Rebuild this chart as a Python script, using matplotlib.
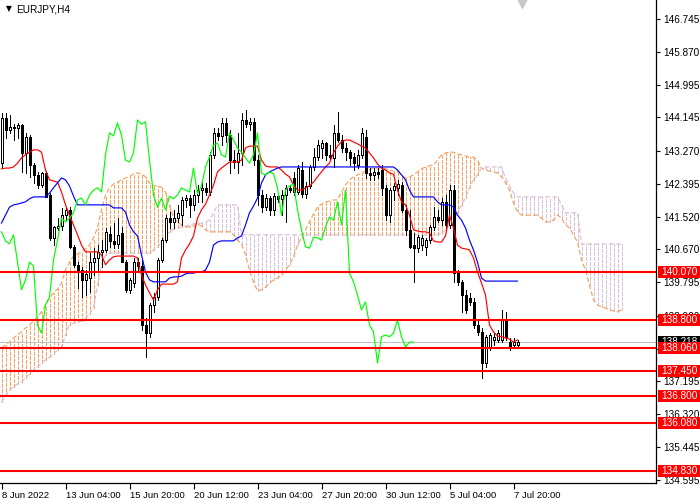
import matplotlib
matplotlib.use("Agg")
import matplotlib.pyplot as plt
from matplotlib.patches import Rectangle
import matplotlib.transforms as mtransforms

symbol_title = "EURJPY,H4"

open_ = [142.94,144.13,143.82,143.89,143.87,143.95,143.21,143.63,142.89,142.63,
         142.36,142.68,142.10,140.97,141.23,141.28,141.57,141.71,140.73,140.26,
         140.12,139.86,139.91,140.33,140.44,140.60,140.65,141.07,140.89,140.81,
         141.10,140.33,139.60,139.78,140.33,140.23,138.67,138.46,139.20,139.41,
         140.39,140.91,141.49,141.39,141.49,141.57,141.97,142.02,141.84,142.10,
         142.23,142.29,142.18,143.16,143.74,143.66,144.00,143.68,143.02,142.97,
         143.21,144.08,143.97,144.03,143.02,142.10,141.78,142.02,141.71,142.07,
         142.00,142.10,142.29,142.55,142.18,142.76,142.13,142.34,142.84,143.10,
         143.34,143.47,143.16,143.08,143.74,143.55,143.34,143.23,143.10,142.89,
         143.16,143.63,142.68,142.63,142.71,142.76,142.29,141.57,142.23,142.29,
         142.36,141.71,141.18,140.78,140.70,140.78,140.73,140.91,141.26,141.52,
         141.44,141.92,141.31,142.23,140.04,139.81,139.46,139.38,139.28,138.67,
         138.49,137.67,138.09,138.28,138.28,138.28,138.80,138.22,138.15,138.15]
high = [144.26,144.26,144.21,143.97,144.00,143.97,143.74,143.68,142.94,142.71,
        142.71,142.73,142.15,141.28,141.49,141.76,141.76,141.78,140.78,140.33,
        140.20,140.12,140.57,140.70,140.78,140.91,141.23,141.26,141.36,141.49,
        141.26,140.39,139.91,140.44,140.44,140.39,138.86,139.25,139.52,140.44,
        140.97,141.57,141.65,141.71,141.84,142.05,142.10,142.10,142.23,142.36,
        142.50,142.42,143.23,143.87,143.87,144.13,144.13,143.82,143.29,143.74,
        144.26,144.34,144.13,144.13,143.16,142.23,142.13,142.07,142.15,142.13,
        142.23,142.36,142.36,142.71,142.89,142.97,142.44,142.89,143.34,143.55,
        143.55,143.50,143.42,143.95,144.29,143.68,143.47,143.29,143.21,143.29,
        143.87,143.82,142.81,142.81,142.81,142.89,142.36,142.29,142.42,142.50,
        142.44,141.84,141.71,141.10,141.05,141.05,140.97,141.31,141.78,141.71,
        142.02,142.10,142.36,142.36,140.12,139.86,139.60,139.52,139.38,138.80,
        138.59,138.41,138.46,138.46,138.54,139.07,139.02,138.33,138.33,138.28]
low = [142.84,143.60,143.74,143.55,143.60,142.71,142.68,142.58,142.42,142.29,
       142.31,142.05,140.91,140.78,141.18,141.18,141.44,140.70,140.20,139.65,
       139.41,139.46,139.54,139.99,140.12,140.20,140.60,140.73,140.70,140.70,
       140.33,139.54,139.52,139.67,140.12,138.54,137.83,138.36,139.02,139.33,
       140.33,140.86,141.23,141.23,141.39,141.31,141.78,141.52,141.71,141.92,
       141.92,142.10,142.10,143.08,143.55,143.42,143.50,142.68,142.81,142.68,
       142.89,143.89,143.82,142.89,141.84,141.65,141.71,141.57,141.57,141.92,
       141.57,141.39,142.18,142.10,142.13,142.05,142.02,142.29,142.76,143.02,
       143.08,143.02,143.02,142.84,143.50,143.23,143.02,142.89,142.76,142.81,
       143.08,142.55,142.50,142.50,142.55,142.10,141.44,141.39,141.97,142.10,
       141.65,141.05,140.70,139.81,140.60,140.65,140.52,140.83,141.18,141.39,
       141.31,141.23,141.23,139.81,139.73,139.02,138.99,139.20,138.59,138.41,
       137.28,137.57,138.01,138.15,138.22,138.22,138.28,138.01,138.06,138.09]
close = [144.13,143.82,143.89,143.87,143.95,143.21,143.63,142.89,142.63,142.36,
         142.68,142.05,140.97,141.26,141.28,141.57,141.71,140.73,140.26,140.12,
         139.86,140.02,140.33,140.44,140.60,140.65,141.13,140.89,140.81,141.05,
         140.33,139.60,139.86,140.33,140.23,138.67,138.46,139.20,139.41,140.39,
         140.91,141.49,141.39,141.49,141.63,141.97,142.02,141.84,142.10,142.23,
         142.29,142.18,143.16,143.74,143.66,144.00,143.68,143.02,142.97,143.21,
         144.08,143.97,144.03,143.02,142.10,141.78,142.02,141.71,142.07,142.00,
         142.10,142.29,142.23,142.18,142.81,142.13,142.34,142.84,143.10,143.42,
         143.47,143.16,143.10,143.74,143.55,143.34,143.23,143.08,142.94,143.16,
         143.74,142.68,142.63,142.71,142.66,142.29,141.57,142.23,142.34,142.39,
         141.71,141.18,140.73,140.70,140.99,140.97,140.91,141.26,141.52,141.44,
         141.92,141.31,142.23,140.04,139.81,139.46,139.07,139.28,138.67,138.49,
         137.67,138.36,138.41,138.36,138.46,138.80,138.36,138.09,138.22,138.218]

tenkan = [142.79,142.81,142.81,142.84,142.94,143.08,143.16,143.23,143.29,143.29,
          143.23,142.76,142.50,142.47,142.44,142.18,141.84,141.57,141.31,141.05,
          140.78,140.60,140.60,140.60,140.60,140.52,140.26,140.39,140.47,140.49,
          140.49,140.49,140.49,140.49,140.44,139.99,139.73,139.52,139.33,139.60,
          139.75,139.75,139.75,139.75,139.81,140.44,140.65,140.81,141.02,141.49,
          141.71,141.86,142.10,142.36,142.71,142.81,142.89,142.97,142.97,142.97,
          143.02,143.34,143.39,143.39,143.39,143.02,142.87,142.84,142.84,142.84,
          142.76,142.65,142.58,142.36,142.23,142.23,142.29,142.34,142.44,142.58,
          142.71,142.84,142.94,143.21,143.39,143.50,143.55,143.55,143.50,143.45,
          143.39,143.34,143.21,143.08,142.92,142.81,142.76,142.68,142.65,142.23,
          141.92,141.84,141.57,141.18,141.15,141.13,141.13,141.10,140.89,140.86,
          140.86,141.02,141.57,141.23,140.78,140.70,140.68,140.65,140.44,140.07,
          139.78,139.46,138.67,138.49,138.38,138.36,138.33,138.30,138.22,138.28]
kijun = [141.36,141.57,141.78,141.84,141.86,141.89,141.92,142.00,142.05,142.05,
         142.05,142.05,142.15,142.29,142.42,142.55,142.50,142.34,142.07,141.84,
         141.84,141.84,141.84,141.84,141.84,141.84,141.84,141.84,141.76,141.76,
         141.76,141.65,141.31,141.13,141.02,140.52,140.07,139.86,139.81,139.81,
         139.81,139.81,139.91,139.94,139.94,139.96,140.02,140.04,140.04,140.07,
         140.07,140.12,140.33,140.78,140.86,140.89,140.89,140.89,140.89,140.97,
         141.02,141.31,141.63,141.81,142.02,142.42,142.63,142.71,142.76,142.81,
         142.84,142.84,142.84,142.84,142.84,142.84,142.84,142.84,142.84,142.84,
         142.84,142.84,142.84,142.84,142.84,142.84,142.84,142.84,142.84,142.84,
         142.84,142.84,142.84,142.84,142.84,142.84,142.84,142.84,142.84,142.76,
         142.63,142.50,142.23,142.05,142.05,142.05,142.05,142.05,142.05,141.92,
         141.84,141.84,141.84,141.78,141.57,141.44,141.23,140.91,140.65,140.33,
         139.91,139.83,139.83,139.83,139.83,139.83,139.83,139.83,139.83,139.83]
senkou_a = [138.07,138.15,138.22,138.33,138.41,138.49,138.59,138.67,138.78,138.88,
            139.02,139.20,139.38,139.52,139.62,139.78,140.12,140.33,140.49,140.55,
            140.60,140.68,140.78,140.97,141.23,141.71,142.10,142.29,142.39,142.44,
            142.50,142.55,142.58,142.66,142.68,142.66,142.58,142.42,142.34,142.34,
            142.31,142.18,141.84,141.52,141.39,141.31,141.26,141.26,141.28,141.34,
            141.28,141.18,141.13,141.13,141.13,141.13,141.13,141.13,141.05,140.91,
            140.81,140.52,140.12,139.81,139.57,139.60,139.67,139.78,139.86,139.91,
            139.99,140.12,140.26,140.47,140.78,140.97,141.18,141.39,141.60,141.78,
            141.86,141.92,141.94,141.97,141.97,142.18,142.36,142.50,142.58,142.63,
            142.68,142.73,142.76,142.81,142.81,142.81,142.79,142.76,142.73,142.71,
            142.63,142.55,142.58,142.63,142.71,142.79,142.84,142.87,142.89,143.02,
            143.16,143.21,143.23,143.23,143.18,143.16,143.13,143.10,143.10,143.02,
            142.81,142.76,142.73,142.71,142.68,142.58,142.42,142.23,141.89,141.65,
            141.57,141.57,141.57,141.57,141.57,141.49,141.39,141.39,141.44,141.57,
            141.49,141.31,141.23,141.05,140.86,140.39,140.12,139.73,139.33,139.20,
            139.15,139.12,139.07,139.04,139.02,139.07]
senkou_b = [136.64,136.80,136.96,137.04,137.12,137.17,137.28,137.38,137.49,137.57,
            137.67,137.75,137.83,137.91,138.01,138.09,138.41,138.67,138.72,138.75,
            138.78,138.86,138.96,139.12,139.73,140.26,140.52,140.57,140.57,140.57,
            140.57,140.57,140.57,140.57,140.57,140.57,140.57,140.57,140.65,140.73,
            140.86,141.02,141.13,141.20,141.23,141.26,141.28,141.31,141.34,141.36,
            141.36,141.39,141.44,141.63,141.84,141.84,141.84,141.84,141.84,141.84,
            141.05,141.05,141.05,141.05,141.05,141.05,141.05,141.05,141.05,141.05,
            141.05,141.05,141.05,141.05,141.05,141.05,141.05,141.05,141.05,141.05,
            141.05,141.05,141.05,141.05,141.05,141.05,141.05,141.05,141.05,141.05,
            141.05,141.05,141.05,141.05,141.05,141.05,141.05,141.05,141.05,141.05,
            141.05,141.05,141.05,141.05,141.05,141.05,141.05,141.05,141.05,141.05,
            141.10,141.18,141.28,141.36,141.63,141.84,142.02,142.29,142.50,142.63,
            142.81,142.84,142.84,142.84,142.84,142.84,142.55,142.34,142.15,142.05,
            142.05,142.05,142.05,142.05,142.05,142.05,142.05,142.05,142.05,142.05,
            141.84,141.63,141.63,141.63,141.63,140.81,140.81,140.81,140.81,140.81,
            140.81,140.81,140.81,140.81,140.81,140.81]
chikou_shift = 26

levels = [140.070, 138.800, 138.060, 137.450, 136.800, 136.080, 134.830]
bid_price = 138.218
price_ticks = [146.745, 145.870, 144.995, 144.145, 143.270, 142.395, 141.520,
               140.670, 139.795, 138.920, 138.045, 137.195, 136.320, 135.445, 134.595]
time_labels = ["8 Jun 2022", "13 Jun 04:00", "15 Jun 20:00", "20 Jun 12:00",
               "23 Jun 04:00", "27 Jun 20:00", "30 Jun 12:00", "5 Jul 04:00", "7 Jul 20:00"]
time_label_bars = [0, 16, 32, 48, 64, 80, 96, 112, 128]

AXFONT = ['Liberation Sans', 'DejaVu Sans']
plt.rcParams['font.family'] = AXFONT

W, H = 700, 500
fig = plt.figure(figsize=(W / 100, H / 100), dpi=100)
ax_right_px, ax_bottom_px = 656, 483
ax = fig.add_axes([0, 1 - ax_bottom_px / H, ax_right_px / W, ax_bottom_px / H])
ax.set_xlim(-0.375, 163.625)
YMIN, YMAX = 134.505, 147.243
ax.set_ylim(YMIN, YMAX)

SANDY = '#F4A460'
THISTLE = '#D8BFD8'
PX = 0.72  # one pixel in points
DOT = (0, (4, 2))
n_cloud = len(senkou_a)
xs_cloud = list(range(n_cloud))
cols = [SANDY if a >= b else THISTLE for a, b in zip(senkou_a, senkou_b)]
ax.vlines(xs_cloud, [min(a, b) for a, b in zip(senkou_a, senkou_b)],
          [max(a, b) for a, b in zip(senkou_a, senkou_b)],
          colors=cols, linewidth=PX, linestyles=DOT, antialiased=False, zorder=1)
ax.plot(xs_cloud, senkou_a, color=SANDY, lw=PX * 1.2, ls=DOT, zorder=1.1)
ax.plot(xs_cloud, senkou_b, color=THISTLE, lw=PX * 1.2, ls=DOT, zorder=1.1)

# bid line
ax.axhline(bid_price, color='#c0c0c0', lw=PX, zorder=1.5, antialiased=False)

# candles
n = len(close)
bw = 0.5
ax.vlines(range(n), low, high, colors='black', lw=PX, antialiased=False, zorder=3)
for i in range(n):
    o, c = open_[i], close[i]
    bull = c >= o
    y0 = min(o, c)
    hh = max(abs(c - o), 0.012)
    ax.add_patch(Rectangle((i - bw / 2, y0), bw, hh,
                           facecolor='white' if bull else 'black',
                           edgecolor='black', lw=PX, antialiased=False, zorder=3.2))

# Ichimoku lines
ax.plot(range(n), tenkan, color='#FF0000', lw=0.85, zorder=4)
ax.plot(range(n), kijun, color='#0000FF', lw=0.85, zorder=4)
ax.plot(range(n - chikou_shift), close[chikou_shift:], color='#00FF00', lw=0.85, zorder=4)

# horizontal levels
for lv in levels:
    ax.axhline(lv, color='#FF0000', lw=1.5, zorder=5)

# axes style
for s in ['top', 'left']:
    ax.spines[s].set_visible(False)
for s in ['right', 'bottom']:
    ax.spines[s].set_color('black')
    ax.spines[s].set_linewidth(0.9)
ax.yaxis.tick_right()
ax.set_yticks(price_ticks)
ax.set_yticklabels([f"{t:.3f}" for t in price_ticks])
ax.tick_params(axis='y', direction='out', length=3, width=0.8, labelsize=7.2, pad=2.5,
               colors='black')
ax.set_xticks(time_label_bars)
ax.set_xticklabels(time_labels)
ax.tick_params(axis='x', direction='out', length=4, width=0.8, labelsize=6.8, pad=1.5)
for lab in ax.get_xticklabels():
    lab.set_horizontalalignment('left')

# price labels on axis
trans = mtransforms.blended_transform_factory(ax.transAxes, ax.transData)
box_w = 44 / ax_right_px
box_h = 12 / (ax_bottom_px / (YMAX - YMIN))


def axis_label(price, face, z):
    ax.add_patch(Rectangle((1.0 + 1.5 / ax_right_px, price - box_h / 2), box_w, box_h,
                           transform=trans, facecolor=face, edgecolor='none',
                           clip_on=False, zorder=z))
    ax.text(1.0 + 5 / ax_right_px, price, f"{price:.3f}", transform=trans,
            color='white', fontsize=7.2, va='center', ha='left', clip_on=False,
            zorder=z + 0.1)


axis_label(bid_price, 'black', 9)
for lv in levels:
    axis_label(lv, '#FF0000', 10)

# chart shift marker
ax.plot([n], [YMAX - 0.08], marker='v', markersize=7, color='#c8c8c8',
        clip_on=False, zorder=6)

fig.text(6 / W, 1 - 9 / H, "\u25BC", fontsize=5.5, va='center', ha='left',
         color='black', family='DejaVu Sans')
fig.text(16 / W, 1 - 9 / H, symbol_title, fontsize=7.2, va='center', ha='left',
         color='black')

fig.savefig("out.png", dpi=100, facecolor='white')
